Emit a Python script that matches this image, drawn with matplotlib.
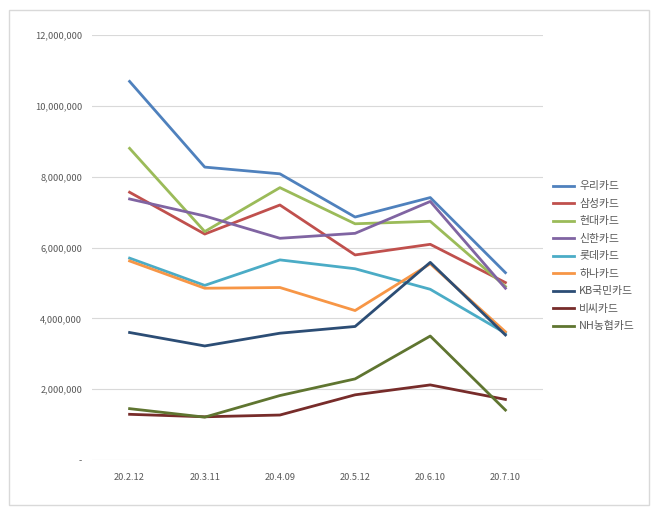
import matplotlib.pyplot as plt
from matplotlib.patches import Rectangle
from matplotlib.ticker import FuncFormatter

plt.rcParams['font.family'] = ['Noto Sans CJK KR', 'DejaVu Sans']

# 날짜 (x축)
dates = ["20.2.12", "20.3.11", "20.4.09", "20.5.12", "20.6.10", "20.7.10"]

# 카드사별 값
woori = [10690000, 8270000, 8080000, 6860000, 7410000, 5290000]
samsung = [7560000, 6380000, 7200000, 5790000, 6090000, 5010000]
hyundai = [8800000, 6450000, 7690000, 6670000, 6740000, 4900000]
shinhan = [7370000, 6890000, 6260000, 6400000, 7300000, 4850000]
lotte = [5700000, 4930000, 5650000, 5400000, 4820000, 3580000]
hana = [5620000, 4850000, 4870000, 4220000, 5540000, 3620000]
kb = [3600000, 3220000, 3580000, 3770000, 5580000, 3530000]
bc = [1290000, 1220000, 1270000, 1840000, 2120000, 1710000]
nh = [1450000, 1210000, 1820000, 2290000, 3500000, 1410000]

series = [
    ("우리카드", woori, "#4F81BD"),
    ("삼성카드", samsung, "#C0504D"),
    ("현대카드", hyundai, "#9BBB59"),
    ("신한카드", shinhan, "#8064A2"),
    ("롯데카드", lotte, "#4BACC6"),
    ("하나카드", hana, "#F79646"),
    ("KB국민카드", kb, "#2C4D75"),
    ("비씨카드", bc, "#772C2A"),
    ("NH농협카드", nh, "#5F7530"),
]

fig = plt.figure(figsize=(6.6, 5.14), dpi=100)
fig.patches.append(Rectangle((9 / 660, 1 - 505 / 514), 640 / 660, 495 / 514,
                             transform=fig.transFigure, fill=False,
                             edgecolor="#d9d9d9", linewidth=1))

ax = fig.add_axes([92 / 660, 1 - 460 / 514, 451 / 660, 425 / 514])
x = list(range(len(dates)))
for name, vals, col in series:
    ax.plot(x, vals, color=col, linewidth=2.0, label=name)

ax.set_xlim(-0.5, len(dates) - 0.5)
ax.set_ylim(0, 12000000)
ax.set_yticks(range(0, 12000001, 2000000))
ax.yaxis.set_major_formatter(FuncFormatter(lambda v, p: "-" if v == 0 else f"{int(v):,}"))
ax.set_xticks(x)
ax.set_xticklabels(dates)
ax.grid(axis="y", color="#d9d9d9", linewidth=0.8)
ax.set_axisbelow(True)
for s in ax.spines.values():
    s.set_visible(False)
ax.tick_params(axis="both", length=0, labelsize=6.7, labelcolor="#595959")
ax.tick_params(axis="y", pad=7)
ax.tick_params(axis="x", pad=9)

leg = ax.legend(loc="center left", bbox_to_anchor=(1.0, 0.479), frameon=False,
                fontsize=7.8, handlelength=1.95, labelspacing=0.69,
                handletextpad=0.5, borderaxespad=0.5)
for t in leg.get_texts():
    t.set_color("#595959")

fig.savefig("out.png", dpi=100)
